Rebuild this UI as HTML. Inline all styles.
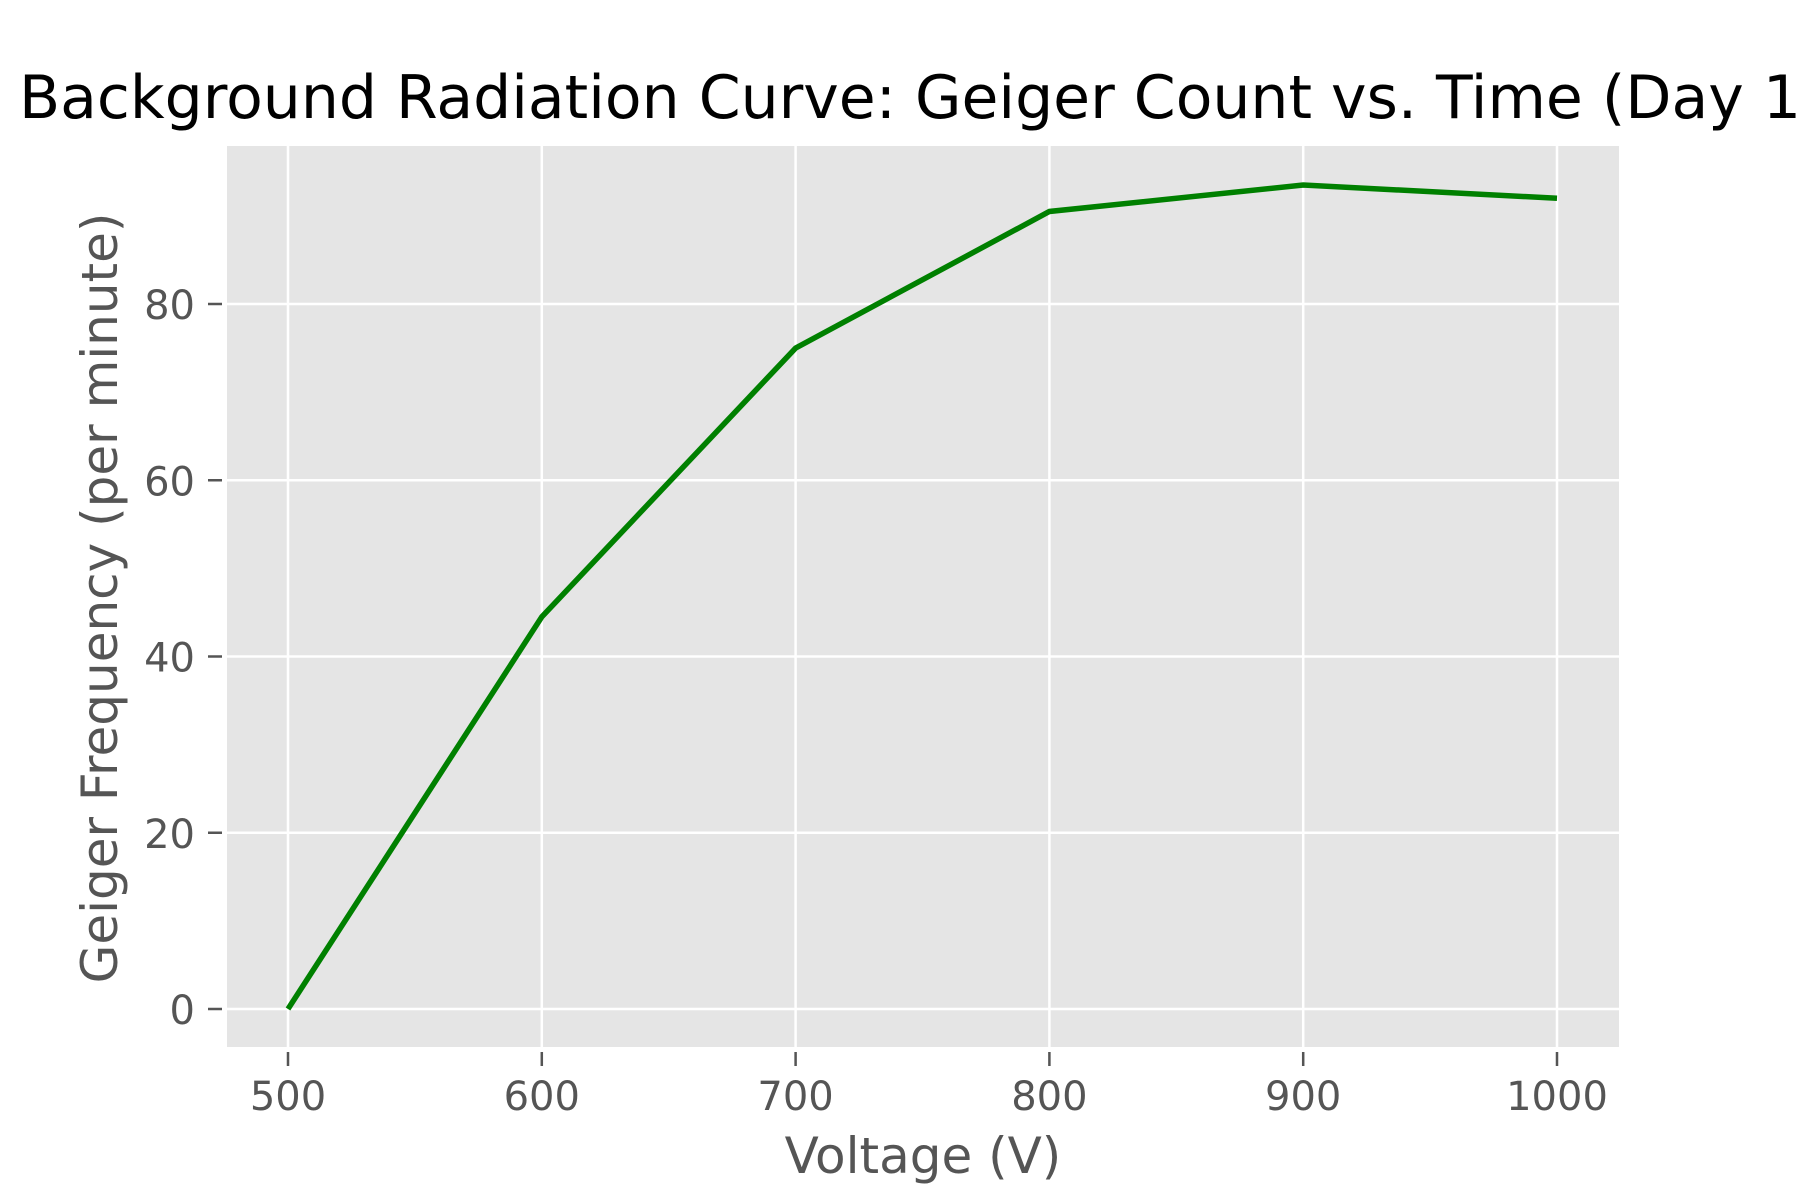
<!DOCTYPE html>
<html><head><meta charset="utf-8"><style>
body{margin:0;background:#fff}
svg{display:block}
text{font-family:"DejaVu Sans","Liberation Sans",sans-serif}
</style></head><body>
<svg id="chart" width="1800" height="1200" xmlns="http://www.w3.org/2000/svg">
<rect width="1800" height="1200" fill="#fff"/>
<rect x="227" y="146" width="1392" height="901" fill="#e5e5e5"/>
<g id="grid"></g><g id="ticks"></g>
<path id="line" fill="none" stroke="#008000" stroke-width="5.5"/>
<text x="19" y="118" font-size="60" fill="#000">Background Radiation Curve: Geiger Count vs. Time (Day 1)</text>
<text x="923" y="1173" font-size="50" fill="#555" text-anchor="middle">Voltage (V)</text>
<text transform="translate(117,598) rotate(-90)" font-size="50" fill="#555" text-anchor="middle">Geiger Frequency (per minute)</text>
</svg>
<script>
const voltages=[500,600,700,800,900,1000];
const counts=[0,44.5,75,90.5,93.5,92];
const xTicks=[500,600,700,800,900,1000];
const yTicks=[0,20,40,60,80];
const X=v=>288+(v-500)*(1557-288)/500;
const Y=v=>1009-v*(1009-304)/80;
const NS="http://www.w3.org/2000/svg";
const grid=document.getElementById('grid'),ticks=document.getElementById('ticks');
function mk(tag,attrs,parent){const e=document.createElementNS(NS,tag);for(const k in attrs)e.setAttribute(k,attrs[k]);parent.appendChild(e);return e;}
xTicks.forEach(t=>{
 const g=mk('line',{x1:X(t),x2:X(t),y1:146,y2:1047,stroke:'#fff','stroke-width':2.5},grid);
 
 
 const m=mk('line',{x1:X(t),x2:X(t),y1:1052,y2:1066,stroke:'#555','stroke-width':2.5},ticks);
 
 
 const l=mk('text',{x:X(t),y:1110,'font-size':40,fill:'#555','text-anchor':'middle'},ticks);
 l.textContent=t;
 
 
});
yTicks.forEach(t=>{
 const g=mk('line',{x1:227,x2:1619,y1:Y(t),y2:Y(t),stroke:'#fff','stroke-width':2.5},grid);
 
 
 const m=mk('line',{x1:208,x2:222,y1:Y(t),y2:Y(t),stroke:'#555','stroke-width':2.5},ticks);
 
 
 const l=mk('text',{x:195,y:Y(t)+15,'font-size':40,fill:'#555','text-anchor':'end'},ticks);
 l.textContent=t;
 
 
});
document.getElementById('line').setAttribute('d',voltages.map((v,i)=>(i?'L':'M')+X(v)+','+Y(counts[i])).join(' '));
</script>
</body></html>
